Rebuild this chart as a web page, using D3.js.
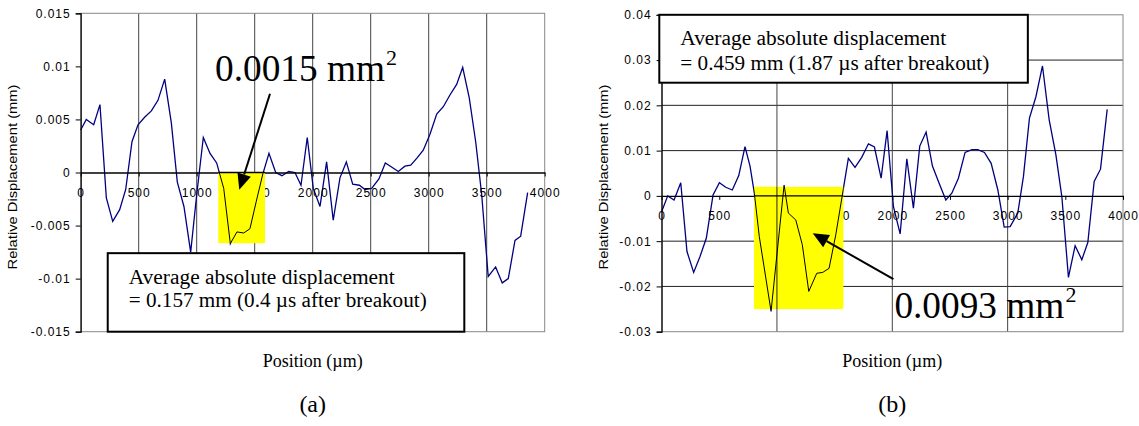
<!DOCTYPE html>
<html>
<head>
<meta charset="utf-8">
<script src="https://cdn.jsdelivr.net/npm/d3@7"></script>
<style>
body { margin: 0; background: #fff; }
svg { display: block; }
</style>
</head>
<body>
<div id="wrapper"></div>
<script>
// panel (a): position (um) and relative displacement (mm)
const posA = [0, 48, 112, 166, 221, 276, 336, 388, 442, 494, 551, 609, 666, 724, 781, 833, 890, 948, 1000, 1057,
  1115, 1172, 1233, 1290, 1347, 1405, 1459, 1514, 1571, 1623, 1681, 1735, 1793, 1847, 1899, 1953, 2005, 2063, 2120, 2177,
  2235, 2290, 2345, 2402, 2451, 2508, 2571, 2626, 2683, 2738, 2795, 2845, 2902, 2953, 3011, 3069, 3126, 3183, 3241, 3293,
  3350, 3405, 3457, 3513, 3577, 3634, 3686, 3744, 3793, 3853];
const dispA = [0.0040, 0.0050, 0.0045, 0.0064, -0.0024, -0.0046, -0.0035, -0.0016, 0.0029, 0.0045, 0.0052, 0.0058, 0.0068, 0.0088, 0.0047, -0.0009, -0.0032, -0.0075, -0.0021, 0.0033,
  0.0018, 0.0009, -0.0015, -0.0067, -0.0056, -0.0057, -0.0053, -0.0027, -0.0001, 0.0018, 0.0000, -0.0003, 0.0001, 0.0000, -0.0012, 0.0033, -0.0015, -0.0032, 0.0010, -0.0045,
  -0.0005, 0.0010, -0.0011, -0.0012, -0.0016, -0.0015, -0.0006, 0.0009, 0.0005, 0.0001, 0.0006, 0.0007, 0.0014, 0.0021, 0.0036, 0.0055, 0.0062, 0.0073, 0.0083, 0.0099,
  0.0070, 0.0029, -0.0021, -0.0098, -0.0089, -0.0104, -0.0100, -0.0064, -0.0060, -0.0019];

// panel (b)
const posB = [0, 53, 108, 166, 220, 278, 333, 388, 446, 501, 556, 613, 669, 723, 767, 804, 847, 949, 1062, 1099,
  1163, 1220, 1276, 1345, 1397, 1452, 1510, 1567, 1619, 1677, 1735, 1793, 1845, 1903, 1955, 2010, 2068, 2126, 2183, 2238,
  2293, 2348, 2406, 2464, 2516, 2573, 2631, 2690, 2741, 2799, 2857, 2915, 2970, 3022, 3088, 3137, 3189, 3245, 3302, 3360,
  3418, 3470, 3527, 3585, 3643, 3695, 3750, 3805, 3863];
const dispB = [-0.0035, 0.0000, -0.0009, 0.0029, -0.0123, -0.0169, -0.0134, -0.0093, 0.0002, 0.0029, 0.0019, 0.0013, 0.0045, 0.0109, 0.0065, 0.0006, -0.0090, -0.0255, 0.0024, -0.0038,
  -0.0053, -0.0108, -0.0211, -0.0171, -0.0169, -0.0160, -0.0086, 0.0002, 0.0083, 0.0063, 0.0085, 0.0115, 0.0108, 0.0039, 0.0144, -0.0024, -0.0084, 0.0082, -0.0027, 0.0110,
  0.0141, 0.0066, 0.0028, -0.0009, 0.0006, 0.0039, 0.0096, 0.0102, 0.0102, 0.0096, 0.0072, 0.0013, -0.0069, -0.0068, -0.0038, 0.0043, 0.0172, 0.0219, 0.0287, 0.0168,
  0.0091, -0.0002, -0.0180, -0.0110, -0.0141, -0.0103, 0.0032, 0.0059, 0.0191];

const xTicks = [0, 500, 1000, 1500, 2000, 2500, 3000, 3500, 4000];
const yTicksA = [-0.015, -0.01, -0.005, 0, 0.005, 0.01, 0.015];
const yLabelsA = ["-0.015", "-0.01", "-0.005", "0", "0.005", "0.01", "0.015"];
const yTicksB = [-0.03, -0.02, -0.01, 0, 0.01, 0.02, 0.03, 0.04];
const yLabelsB = ["-0.03", "-0.02", "-0.01", "0", "0.01", "0.02", "0.03", "0.04"];

const noteA = ["Average absolute displacement", "= 0.157 mm (0.4 \u00b5s after breakout)"];
const noteB = ["Average absolute displacement", "= 0.459 mm (1.87 \u00b5s after breakout)"];
const areaA = "0.0015 mm";
const areaB = "0.0093 mm";
const xTitle = "Position (\u00b5m)";
const yTitle = "Relative Displacement (mm)";

const svg = d3.select("#wrapper").append("svg")
  .attr("width", 1139)
  .attr("height", 426);

const sans = "'Liberation Sans', Arial, sans-serif";
const serif = "'Liberation Serif', 'Times New Roman', serif";

function drawPanel(p) {
  const x = d3.scaleLinear().domain([0, 4000]).range(p.xRange);
  const y = d3.scaleLinear().domain(p.yDomain).range(p.yRange);
  const g = svg.append("g");
  const top = y(p.yDomain[1]), bottom = y(p.yDomain[0]);

  // horizontal grid
  g.selectAll(".hg").data(p.hGrid).join("line")
    .attr("x1", x(0)).attr("x2", x(4000))
    .attr("y1", d => y(d)).attr("y2", d => y(d))
    .attr("stroke", "#222").attr("stroke-width", 1);

  const hl = p.highlight;
  const hx0 = x(hl.x0), hx1 = x(hl.x1), hy0 = y(hl.y0), hy1 = y(hl.y1);

  const vgrid = g.append("g");
  vgrid.selectAll("line").data(p.vGrid).join("line")
    .attr("x1", d => x(d)).attr("x2", d => x(d))
    .attr("y1", top).attr("y2", bottom)
    .attr("stroke", "#444").attr("stroke-width", 1);

  // plot border
  g.append("rect")
    .attr("x", x(0)).attr("y", top)
    .attr("width", x(4000) - x(0)).attr("height", bottom - top)
    .attr("fill", "none").attr("stroke", "#888").attr("stroke-width", 1);

  const line = d3.line().x((d, i) => x(p.pos[i])).y(d => y(d));
  g.append("path")
    .attr("d", line(p.disp))
    .attr("fill", "none").attr("stroke", "#000080").attr("stroke-width", 1.3);

  // y axis
  const yAxis = d3.axisLeft(y).tickValues(p.yTicks)
    .tickFormat((d, i) => p.yLabels[i]).tickSize(5).tickPadding(5);
  const ya = g.append("g").attr("transform", `translate(${x(0)},0)`).call(yAxis);
  ya.select(".domain").attr("stroke", "#000").attr("stroke-width", 1.2);
  ya.selectAll("text").attr("font-family", sans).attr("font-size", 12)
    .attr("letter-spacing", 1).attr("fill", "#000");

  // x axis on the zero line
  const xAxis = d3.axisBottom(x).tickValues(xTicks).tickFormat(d3.format("d"))
    .tickSize(4).tickPadding(12).tickSizeOuter(0);
  const xa = g.append("g").attr("transform", `translate(0,${y(0)})`).call(xAxis);
  xa.select(".domain").attr("stroke", "#000").attr("stroke-width", 1.3);
  xa.selectAll("text").attr("font-family", sans).attr("font-size", 12)
    .attr("letter-spacing", 1).attr("fill", "#000");

  // yellow highlight (covers tick labels below it)
  g.append("rect")
    .attr("x", hx0).attr("y", hy0)
    .attr("width", hx1 - hx0).attr("height", hy1 - hy0)
    .attr("fill", "#ffff00");

  if (p.gridOverHighlight) {
    g.append("g").selectAll("line").data(p.vGrid.filter(d => x(d) > hx0 && x(d) < hx1)).join("line")
      .attr("x1", d => x(d)).attr("x2", d => x(d))
      .attr("y1", hy0).attr("y2", hy1)
      .attr("stroke", "#222").attr("stroke-width", 1);
  }
  // zero line stays visible across the highlight
  g.append("line")
    .attr("x1", hx0).attr("x2", hx1)
    .attr("y1", y(0)).attr("y2", y(0))
    .attr("stroke", "#000").attr("stroke-width", 1.3);

  // black copy of the line inside the highlight
  const clipId = "clip" + p.id;
  g.append("clipPath").attr("id", clipId).append("rect")
    .attr("x", hx0).attr("y", hy0)
    .attr("width", hx1 - hx0).attr("height", hy1 - hy0);
  g.append("path")
    .attr("d", line(p.disp))
    .attr("clip-path", `url(#${clipId})`)
    .attr("fill", "none").attr("stroke", "#000").attr("stroke-width", 1);

  // note box
  const nb = p.noteBox;
  g.append("rect")
    .attr("x", x(nb.x0)).attr("y", y(nb.y0))
    .attr("width", x(nb.x1) - x(nb.x0)).attr("height", y(nb.y1) - y(nb.y0))
    .attr("fill", "#fff").attr("stroke", "#000").attr("stroke-width", 2);
  p.note.forEach((t, i) => {
    g.append("text")
      .attr("x", x(nb.x0) + 21)
      .attr("y", y(nb.y0) + p.noteBase[i])
      .attr("font-family", serif).attr("font-size", 20)
      .attr("textLength", p.noteLen[i]).attr("lengthAdjust", "spacingAndGlyphs")
      .text(t);
  });

  // area label with arrow
  const ar = p.arrow;
  const sx = x(ar.x0), sy = y(ar.y0), tx = x(ar.x1), ty = y(ar.y1);
  const ang = Math.atan2(ty - sy, tx - sx);
  const hlen = 16, hw = 7;
  const bx = tx - hlen * Math.cos(ang), by = ty - hlen * Math.sin(ang);
  g.append("line")
    .attr("x1", sx).attr("y1", sy).attr("x2", bx).attr("y2", by)
    .attr("stroke", "#000").attr("stroke-width", 2);
  g.append("polygon")
    .attr("points", [[tx, ty],
      [bx + hw * Math.sin(ang), by - hw * Math.cos(ang)],
      [bx - hw * Math.sin(ang), by + hw * Math.cos(ang)]].map(q => q.join(",")).join(" "))
    .attr("fill", "#000");

  const lx = x(p.areaAt[0]), ly = y(p.areaAt[1]);
  g.append("text")
    .attr("x", lx).attr("y", ly)
    .attr("font-family", serif).attr("font-size", 38)
    .attr("textLength", 170).attr("lengthAdjust", "spacingAndGlyphs")
    .text(p.area);
  g.append("text")
    .attr("x", lx + 171).attr("y", ly - 16)
    .attr("font-family", serif).attr("font-size", 22)
    .text("2");

  // titles
  const cx = (x(0) + x(4000)) / 2;
  g.append("text")
    .attr("x", cx).attr("y", 367)
    .attr("text-anchor", "middle")
    .attr("font-family", serif).attr("font-size", 18)
    .text(xTitle);
  g.append("text")
    .attr("x", cx).attr("y", 412)
    .attr("text-anchor", "middle")
    .attr("font-family", serif).attr("font-size", 24)
    .text(p.label);
  g.append("text")
    .attr("transform", `translate(${p.yTitleX},177) rotate(-90)`)
    .attr("text-anchor", "middle")
    .attr("font-family", sans).attr("font-size", 12)
    .attr("textLength", 185).attr("lengthAdjust", "spacingAndGlyphs")
    .text(yTitle);
}

drawPanel({
  id: "a",
  pos: posA, disp: dispA,
  xRange: [80.7, 544.7],
  yDomain: [-0.015, 0.015], yRange: [331.7, 13.3],
  yTicks: yTicksA, yLabels: yLabelsA,
  hGrid: [],
  vGrid: [500, 1000, 1500, 2000, 2500, 3000, 3500],
  gridOverHighlight: false,
  highlight: { x0: 1186, x1: 1589, y0: 0, y1: -0.00666 },
  noteBox: { x0: 233, x1: 3307, y0: -0.0076, y1: -0.015 },
  note: noteA, noteBase: [31, 54], noteLen: [266, 298],
  arrow: { x0: 1632, y0: 0.00742, x1: 1367, y1: -0.00163 },
  area: areaA, areaAt: [1158, 0.00858],
  label: "(a)", yTitleX: 17
});

drawPanel({
  id: "b",
  pos: posB, disp: dispB,
  xRange: [661.6, 1123],
  yDomain: [-0.03, 0.04], yRange: [331.7, 14.8],
  yTicks: yTicksB, yLabels: yLabelsB,
  hGrid: [-0.02, -0.01, 0.01, 0.02, 0.03],
  vGrid: [1000, 2000, 3000],
  gridOverHighlight: true,
  highlight: { x0: 801, x1: 1576, y0: 0.002, y1: -0.025 },
  noteBox: { x0: -20, x1: 3175, y0: 0.04, y1: 0.025 },
  note: noteB, noteBase: [30, 55], noteLen: [266, 309],
  arrow: { x0: 2010, y0: -0.0184, x1: 1310, y1: -0.00824 },
  area: areaB, areaAt: [2018, -0.02694],
  label: "(b)", yTitleX: 608
});
</script>
</body>
</html>
